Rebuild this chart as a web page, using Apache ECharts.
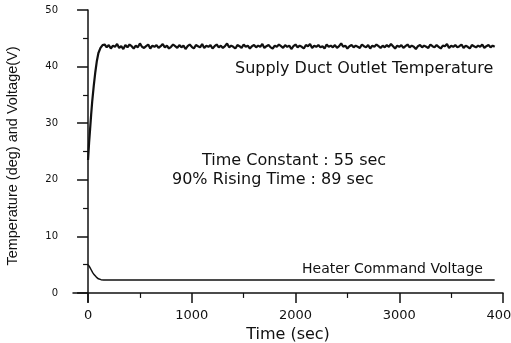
<!DOCTYPE html>
<html>
<head>
<meta charset="utf-8">
<script src="https://cdn.jsdelivr.net/npm/echarts@6/dist/echarts.min.js"></script>
<style>
html, body { margin: 0; padding: 0; background: #fff; }
#chart { width: 511px; height: 343px; }
</style>
</head>
<body>
<div id="chart"></div>
<script>
// axis ticks
var xTicks = [0, 1000, 2000, 3000, 4000];
var xMinorTicks = [500, 1500, 2500, 3500];
var yTicks = [0, 10, 20, 30, 40, 50];
var yMinorTicks = [5, 15, 25, 35, 45];

// supply duct outlet temperature : step response part (sec, deg)
var riseTimes = [0, 10, 20, 30, 40, 55, 70, 85, 100, 120, 140];
var riseTemps = [23.5, 26.5, 29.0, 31.5, 33.8, 36.6, 39.0, 41.0, 42.4, 43.3, 43.8];

// after settling, read every 20 sec from 160 sec
var settleStart = 160;
var settleStep = 20;
var settleTemps = [
  43.9,43.4,43.8,43.2,43.7,43.5,44.0,43.3,43.6,43.1,
  43.8,43.4,43.9,43.6,43.2,43.7,43.4,44.1,43.5,43.3,
  43.6,43.9,43.2,43.7,43.5,43.8,43.3,43.6,44.0,43.4,
  43.7,43.2,43.5,43.9,43.6,43.3,43.8,43.4,43.7,43.1,
  43.6,43.9,43.5,43.2,43.8,43.6,43.4,44.0,43.3,43.7,
  43.5,43.8,43.2,43.6,43.9,43.4,43.7,43.3,43.6,44.1,
  43.4,43.7,43.5,43.2,43.8,43.6,43.3,43.9,43.5,43.7,
  43.2,43.6,43.8,43.4,43.7,43.5,44.0,43.3,43.6,43.8,
  43.4,43.2,43.7,43.5,43.9,43.6,43.3,43.8,43.5,43.7,
  43.1,43.6,43.9,43.4,43.7,43.5,43.2,43.8,43.6,44.0,
  43.3,43.7,43.5,43.8,43.4,43.6,43.2,43.9,43.5,43.7,
  43.4,43.8,43.3,43.6,44.1,43.5,43.7,43.2,43.6,43.8,
  43.4,43.7,43.5,43.3,43.9,43.6,43.4,43.8,43.2,43.7,
  43.5,43.9,43.6,43.3,43.7,43.4,43.8,43.5,44.0,43.6,
  43.2,43.7,43.5,43.8,43.3,43.6,43.9,43.4,43.7,43.5,
  43.1,43.6,43.8,43.4,43.7,43.5,43.3,43.9,43.6,43.4,
  43.8,43.5,43.2,43.7,43.6,44.0,43.3,43.7,43.5,43.8,
  43.4,43.6,43.9,43.3,43.7,43.5,43.2,43.8,43.6,43.4,
  43.7,43.5,43.9,43.3,43.6,43.8,43.4,43.7,43.5
];

// heater command voltage (sec, V)
var heaterTimes = [0, 15, 30, 45, 60, 80, 100, 125, 150, 1000, 2000, 3000, 3920];
var heaterVolts = [5.0, 4.6, 4.1, 3.6, 3.2, 2.8, 2.5, 2.35, 2.3, 2.3, 2.28, 2.3, 2.3];

var tempData = [];
for (var i = 0; i < riseTimes.length; i++) {
  tempData.push([riseTimes[i], riseTemps[i]]);
}
for (var j = 0; j < settleTemps.length; j++) {
  tempData.push([settleStart + j * settleStep, settleTemps[j]]);
}
var heaterData = [];
for (var k = 0; k < heaterTimes.length; k++) {
  heaterData.push([heaterTimes[k], heaterVolts[k]]);
}

var black = '#111';
var plain = function (v) { return String(v); };
var myChart = echarts.init(document.getElementById('chart'));
myChart.setOption({
  animation: false,
  backgroundColor: '#fff',
  grid: { left: 73, right: 8, top: 10, bottom: 41, outerBoundsMode: 'none', containLabel: false },
  xAxis: [
    {
      type: 'value',
      min: -145,
      max: 4000,
      name: 'Time (sec)',
      nameLocation: 'middle',
      nameGap: 21,
      nameTextStyle: { fontFamily: 'DejaVu Sans', fontSize: 16, color: black },
      axisLine: { onZero: true, onZeroAxisIndex: 0, lineStyle: { color: black, width: 1.5 } },
      axisTick: { customValues: xTicks, length: 10, lineStyle: { color: black, width: 1.5 } },
      axisLabel: { customValues: xTicks, formatter: plain, margin: 7, fontFamily: 'DejaVu Sans', fontSize: 13, color: black },
      splitLine: { show: false }
    },
    {
      type: 'value',
      position: 'bottom',
      min: -145,
      max: 4000,
      axisLine: { show: false, onZero: true, onZeroAxisIndex: 0 },
      axisTick: { customValues: xMinorTicks, length: 5, lineStyle: { color: black, width: 1.2 } },
      axisLabel: { show: false },
      splitLine: { show: false }
    }
  ],
  yAxis: [
    {
      type: 'value',
      min: -1.6,
      max: 50,
      name: 'Temperature (deg) and Voltage(V)',
      nameLocation: 'middle',
      nameGap: 53,
      nameTextStyle: { fontFamily: 'Liberation Sans', fontSize: 14.5, color: black },
      axisLine: { onZero: true, onZeroAxisIndex: 0, lineStyle: { color: black, width: 1.5 } },
      axisTick: { customValues: yTicks, length: 11, lineStyle: { color: black, width: 1.5 } },
      axisLabel: { customValues: yTicks, formatter: plain, margin: 15, fontFamily: 'DejaVu Sans', fontSize: 10, color: black },
      splitLine: { show: false }
    },
    {
      type: 'value',
      position: 'left',
      min: -1.6,
      max: 50,
      axisLine: { show: false, onZero: true, onZeroAxisIndex: 0 },
      axisTick: { customValues: yMinorTicks, length: 5, lineStyle: { color: black, width: 1.2 } },
      axisLabel: { show: false },
      splitLine: { show: false }
    }
  ],
  series: [
    {
      name: 'Supply Duct Outlet Temperature',
      type: 'line',
      showSymbol: false,
      data: tempData,
      lineStyle: { color: black, width: 2.2 }
    },
    {
      name: 'Heater Command Voltage',
      type: 'line',
      showSymbol: false,
      data: heaterData,
      lineStyle: { color: black, width: 1.5 }
    }
  ],
  graphic: [
    { type: 'text', left: 235, top: 61, style: { text: 'Supply Duct Outlet Temperature', font: '16px "DejaVu Sans"', fill: black } },
    { type: 'text', left: 202, top: 153, style: { text: 'Time Constant : 55 sec', font: '16px "DejaVu Sans"', fill: black } },
    { type: 'text', left: 172, top: 172, style: { text: '90% Rising Time : 89 sec', font: '16px "DejaVu Sans"', fill: black } },
    { type: 'text', left: 302, top: 262, style: { text: 'Heater Command Voltage', font: '14px "DejaVu Sans"', fill: black } }
  ]
});
</script>
</body>
</html>
